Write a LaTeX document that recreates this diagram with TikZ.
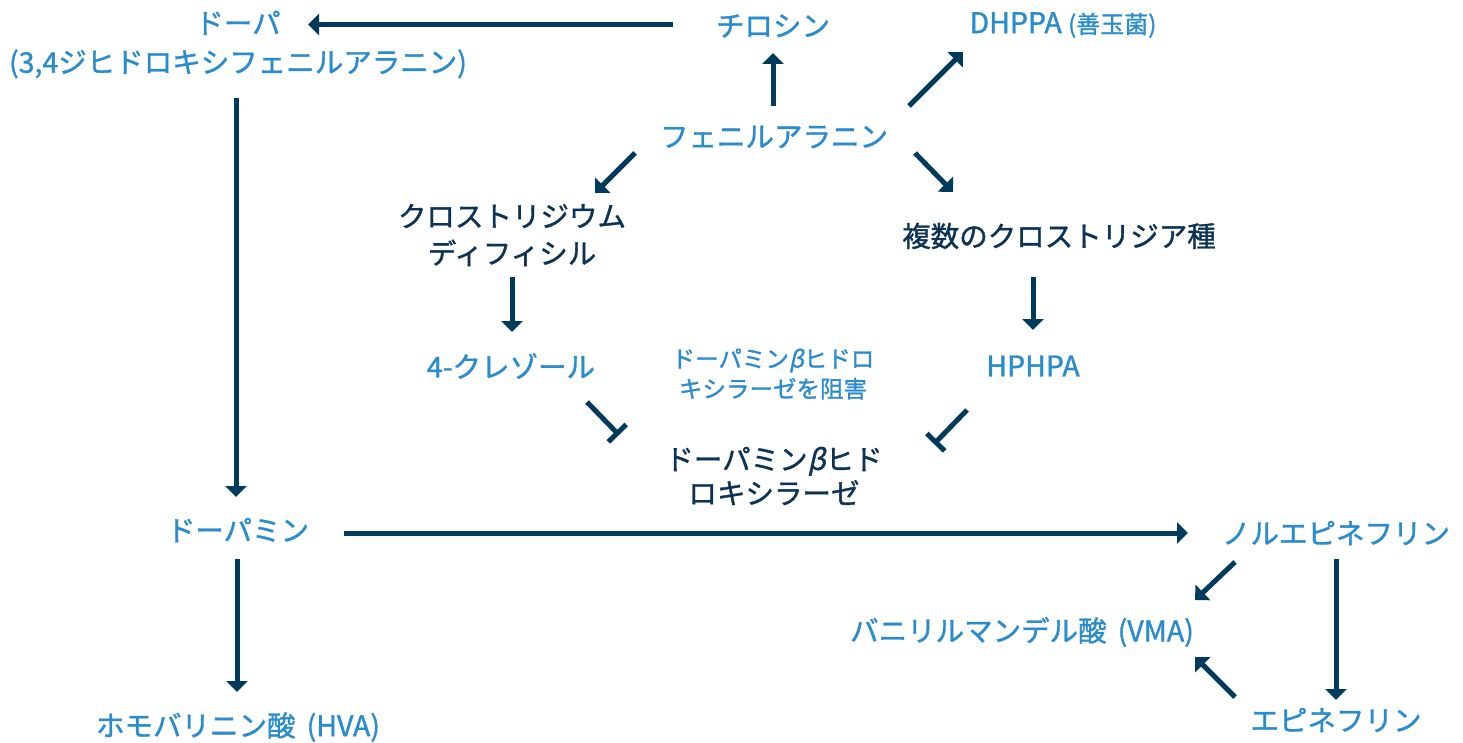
\documentclass[tikz,border=0pt]{standalone}
\usepackage{fontspec}
\setmainfont{Noto Sans CJK JP}[FakeBold=1.2]
\usetikzlibrary{arrows.meta,calc}
\definecolor{navy}{HTML}{003A5D}
\definecolor{dtext}{HTML}{0D3354}
\definecolor{btext}{HTML}{2A8BCD}
\newcommand{\slbeta}{{\addfontfeature{FakeSlant=0.22}β}}
\begin{document}
\begin{tikzpicture}[x=1pt,y=-1pt,
  lbl/.style={inner sep=0pt, align=center, font=\fontsize{28.5}{39}\selectfont},
  bl/.style={lbl, text=btext},
  dk/.style={lbl, text=dtext},
  arr/.style={draw=navy, line width=5pt, -{Triangle[width=21pt,length=11pt]}},
  inh/.style={draw=navy, line width=5pt, -{Bar[width=25pt]}}]
\useasboundingbox (0,0) rectangle (1463,743);

% nodes
\node[bl] (dopa) at (238,44.5) {ドーパ\\(3,4ジヒドロキシフェニルアラニン)};
\node[bl] (tyr) at (773,26) {チロシン};
\node[bl] (dhppa) at (1063,25) {DHPPA {\fontsize{24}{28}\selectfont (善玉菌)}};
\node[bl] (fen) at (774,137) {フェニルアラニン};
\node[dk, font=\fontsize{28.5}{37}\selectfont] (clos) at (512,235) {クロストリジウム\\ディフィシル};
\node[dk] (multi) at (1059,236) {複数のクロストリジア種};
\node[bl] (cresol) at (511,366) {4-クレゾール};
\node[bl] (hphpa) at (1033,366) {HPHPA};
\node[bl, font=\fontsize{23.5}{30}\selectfont] (inhib) at (773,374) {ドーパミン\slbeta ヒドロ\\キシラーゼを阻害};
\node[dk, font=\fontsize{28.5}{34}\selectfont] (dbh) at (774,476) {ドーパミン\slbeta ヒド\\ロキシラーゼ};
\node[bl] (dopamine) at (238,530) {ドーパミン};
\node[bl] (norepi) at (1336,533) {ノルエピネフリン};
\node[bl] (vma) at (1022,632) {バニリルマンデル酸 \,(VMA)};
\node[bl] (hva) at (238,727) {ホモバリニン酸 \,(HVA)};
\node[bl] (epi) at (1336,720) {エピネフリン};

% connectors
\draw[arr] ($(tyr)+(-100,-1.5)$) -- ($(dopa)+(70,-20)$);
\draw[arr] ($(fen)+(-1,-31)$) -- ($(tyr)+(0,27)$);
\draw[arr] ($(fen)+(135,-31)$) -- ($(dhppa)+(-100,27)$);
\draw[arr] ($(fen)+(141,16)$) -- ($(multi)+(-106,-44)$);
\draw[arr] ($(fen)+(-139,16)$) -- ($(clos)+(83,-42)$);
\draw[arr] ($(clos)+(0,42)$) -- ($(cresol)+(1,-34)$);
\draw[arr] ($(multi)+(-26,41)$) -- ($(hphpa)+(0,-36)$);
\draw[inh] ($(cresol)+(76,36)$) -- ($(dbh)+(-155,-41)$);
\draw[inh] ($(hphpa)+(-66,44)$) -- ($(dbh)+(160,-32)$);
\draw[arr] ($(dopa)+(-2,53.5)$) -- ($(dopamine)+(-2,-33)$);
\draw[arr] ($(dopamine)+(106,3)$) -- ($(norepi)+(-148,0)$);
\draw[arr] ($(dopamine)+(-1,29)$) -- ($(hva)+(-1,-35)$);
\draw[arr] ($(norepi)+(-101,29)$) -- ($(vma)+(173,-32)$);
\draw[arr] ($(norepi)+(0,26)$) -- ($(epi)+(0,-20)$);
\draw[arr] ($(epi)+(-101,-23)$) -- ($(vma)+(173,25)$);
\end{tikzpicture}
\end{document}
